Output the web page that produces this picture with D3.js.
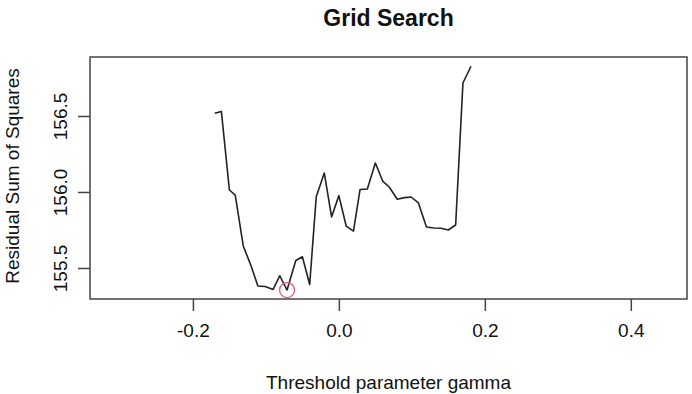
<!DOCTYPE html>
<html>
<head>
<meta charset="utf-8">
<script src="https://cdn.jsdelivr.net/npm/d3@7"></script>
<style>
  body { margin: 0; background: #fff; }
  svg { display: block; }
  text { font-family: "Liberation Sans", Arial, sans-serif; fill: #111; }
</style>
</head>
<body>
<svg id="chart" width="692" height="394"></svg>
<script>
// threshold values tried by the grid search, and the RSS for each
var gammas = [-0.170, -0.161, -0.150, -0.142, -0.131, -0.120, -0.111, -0.101, -0.090, -0.081,
  -0.071, -0.059, -0.050, -0.040, -0.031, -0.020, -0.010, 0.000, 0.010, 0.020,
  0.029, 0.039, 0.050, 0.060, 0.069, 0.080, 0.090, 0.099, 0.109, 0.120,
  0.130, 0.140, 0.150, 0.160, 0.170, 0.181]
var rss = [156.518, 156.530, 156.013, 155.980, 155.645, 155.510, 155.382, 155.378, 155.359, 155.449,
  155.355, 155.549, 155.574, 155.391, 155.969, 156.125, 155.836, 155.976, 155.776, 155.743,
  156.016, 156.020, 156.191, 156.072, 156.033, 155.952, 155.963, 155.967, 155.928, 155.770,
  155.763, 155.761, 155.750, 155.783, 156.717, 156.827]
var xTicks = [-0.2, 0.0, 0.2, 0.4]
var yTicks = [155.5, 156.0, 156.5]
var xDomain = [-0.341, 0.477]
var yDomain = [155.296, 156.888]

;(function() {
  var svg = d3.select('#chart')
  var pl = 90, pr = 687, pt = 57, pb = 299

  var x = d3.scaleLinear().domain(xDomain).range([pl, pr])
  var y = d3.scaleLinear().domain(yDomain).range([pb, pt])

  var pts = gammas.map(function(g, i) { return {g: g, r: rss[i]} })

  // title
  svg.append('text')
    .attr('x', (pl + pr) / 2).attr('y', 26)
    .attr('text-anchor', 'middle')
    .style('font-size', '23px').style('font-weight', 'bold')
    .text('Grid Search')

  // plot box
  svg.append('rect')
    .attr('x', pl).attr('y', pt)
    .attr('width', pr - pl).attr('height', pb - pt)
    .attr('fill', 'none').attr('stroke', '#444').attr('stroke-width', 1.5)

  // x axis
  var xAxis = d3.axisBottom(x).tickValues(xTicks).tickSize(12).tickPadding(13)
    .tickFormat(function(d) { return d3.format('.1f')(d).replace('\u2212', '-') })
  var gx = svg.append('g').attr('transform', 'translate(0,' + pb + ')').call(xAxis)
  gx.select('.domain').remove()
  gx.selectAll('line').attr('stroke', '#444').attr('stroke-width', 1.5)
  gx.selectAll('text').style('font-size', '19px').attr('fill', '#111')

  // y axis, labels parallel to the axis like base R
  var yAxis = d3.axisLeft(y).tickValues(yTicks).tickSize(12).tickFormat(d3.format('.1f'))
  var gy = svg.append('g').attr('transform', 'translate(' + pl + ',0)').call(yAxis)
  gy.select('.domain').remove()
  gy.selectAll('line').attr('stroke', '#444').attr('stroke-width', 1.5)
  gy.selectAll('text')
    .attr('x', 0).attr('dy', 0)
    .attr('text-anchor', 'middle')
    .attr('transform', 'translate(-23,0) rotate(-90)')
    .style('font-size', '19px').attr('fill', '#111')

  // axis titles
  svg.append('text')
    .attr('x', (pl + pr) / 2).attr('y', 389)
    .attr('text-anchor', 'middle')
    .style('font-size', '19px')
    .text('Threshold parameter gamma')

  svg.append('text')
    .attr('transform', 'translate(19,' + ((pt + pb) / 2 - 2) + ') rotate(-90)')
    .attr('text-anchor', 'middle')
    .style('font-size', '19px')
    .text('Residual Sum of Squares')

  // rss line
  var line = d3.line().x(function(d) { return x(d.g) }).y(function(d) { return y(d.r) })
  svg.append('path').datum(pts)
    .attr('d', line)
    .attr('fill', 'none').attr('stroke', '#222').attr('stroke-width', 1.6)
    .attr('stroke-linejoin', 'round')

  // mark the minimum
  var best = pts.reduce(function(a, b) { return b.r < a.r ? b : a })
  svg.append('circle')
    .attr('cx', x(best.g)).attr('cy', y(best.r)).attr('r', 7.5)
    .attr('fill', 'none').attr('stroke', '#e8567a').attr('stroke-width', 1.3)
})()
</script>
</body>
</html>
